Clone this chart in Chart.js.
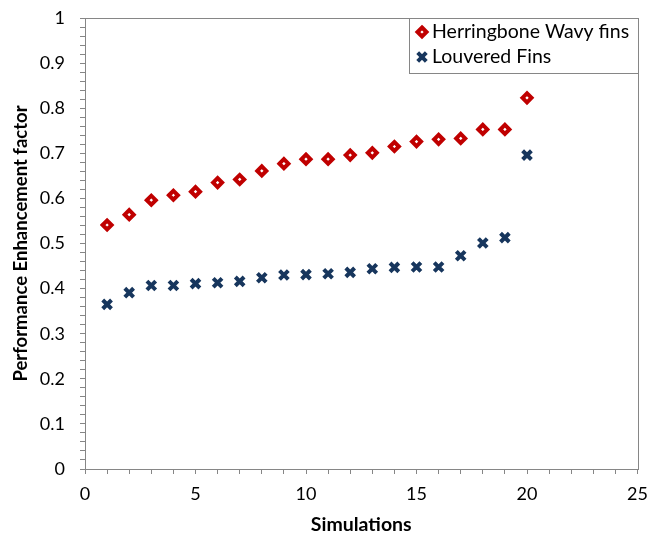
<!DOCTYPE html>
<html>
<head>
<meta charset="utf-8">
<script src="https://cdn.jsdelivr.net/npm/chart.js@4/dist/chart.umd.min.js"></script>
<style>
  html, body { margin: 0; padding: 0; background: #fff; }
  canvas { display: block; }
</style>
</head>
<body>
<canvas id="chart" width="651" height="539"></canvas>
<script>
// Simulation index and performance enhancement factor per fin type
const simulations = [1, 2, 3, 4, 5, 6, 7, 8, 9, 10, 11, 12, 13, 14, 15, 16, 17, 18, 19, 20];
const herringboneWavy = [0.541, 0.564, 0.596, 0.607, 0.615, 0.635, 0.642, 0.661, 0.677, 0.687,
                         0.687, 0.696, 0.701, 0.715, 0.726, 0.731, 0.733, 0.753, 0.753, 0.823];
const louvered = [0.365, 0.391, 0.407, 0.407, 0.411, 0.413, 0.416, 0.424, 0.430, 0.431,
                  0.433, 0.436, 0.444, 0.447, 0.448, 0.448, 0.473, 0.501, 0.513, 0.696];
const seriesNames = ['Herringbone Wavy fins', 'Louvered Fins'];
const xTitle = 'Simulations';
const yTitle = 'Performance Enhancement factor';

const FONT = 'Lato, "Open Sans", sans-serif';
const AXIS_GREY = '#868686';
const RED = '#C00000';
const NAVY = '#17365D';

const toPoints = vals => simulations.map((s, i) => ({ x: s, y: vals[i] }));

function drawMarker(ctx, style, x, y) {
  ctx.save();
  if (style === 'diamond') {
    const r = 4.5;
    ctx.beginPath();
    ctx.moveTo(x, y - r); ctx.lineTo(x + r, y); ctx.lineTo(x, y + r); ctx.lineTo(x - r, y);
    ctx.closePath();
    ctx.fillStyle = '#fff'; ctx.fill();
    ctx.lineWidth = 4; ctx.strokeStyle = RED; ctx.stroke();
  } else {
    const d = 4.3;
    ctx.beginPath();
    ctx.moveTo(x - d, y - d); ctx.lineTo(x + d, y + d);
    ctx.moveTo(x + d, y - d); ctx.lineTo(x - d, y + d);
    ctx.lineWidth = 4; ctx.strokeStyle = NAVY; ctx.stroke();
  }
  ctx.restore();
}

// Plot frame and the boxed legend in the top-right corner
const framePlugin = {
  id: 'frame',
  afterDatasetsDraw(chart) {
    const { ctx, chartArea: a } = chart;
    ctx.save();
    ctx.strokeStyle = AXIS_GREY;
    ctx.lineWidth = 1;
    ctx.strokeRect(Math.round(a.left) + 0.5, Math.round(a.top) + 0.5,
                   Math.round(a.right - a.left), Math.round(a.bottom - a.top));

    const top = Math.round(a.top);
    const lx = 409.5, ly = top + 0.5, lw = Math.round(a.right) - 409, lh = 55;
    ctx.fillStyle = '#fff';
    ctx.fillRect(lx, ly, lw, lh);
    ctx.strokeRect(lx, ly, lw, lh);
    ctx.font = '19.5px ' + FONT;
    ctx.fillStyle = '#000';
    ctx.textBaseline = 'middle';
    ctx.textAlign = 'left';
    drawMarker(ctx, 'diamond', 422, top + 14);
    ctx.fillText(seriesNames[0], 432, top + 14);
    drawMarker(ctx, 'cross', 422, top + 39);
    ctx.fillText(seriesNames[1], 432, top + 39);
    ctx.restore();
  }
};

const isMajorY = v => Math.abs(v * 10 - Math.round(v * 10)) < 1e-6;

new Chart(document.getElementById('chart'), {
  type: 'scatter',
  data: {
    datasets: [
      {
        label: seriesNames[0],
        data: toPoints(herringboneWavy),
        pointStyle: 'rectRot',
        pointRadius: 4.5,
        pointHoverRadius: 4.5,
        pointBorderWidth: 4,
        borderColor: RED,
        backgroundColor: '#fff'
      },
      {
        label: seriesNames[1],
        data: toPoints(louvered),
        pointStyle: 'crossRot',
        pointRadius: 6.2,
        pointHoverRadius: 6.2,
        pointBorderWidth: 4,
        borderColor: NAVY,
        backgroundColor: NAVY
      }
    ]
  },
  options: {
    responsive: false,
    animation: false,
    layout: { padding: { top: 18, right: 13.5, left: 0, bottom: 0 } },
    plugins: { legend: { display: false }, tooltip: { enabled: false } },
    scales: {
      x: {
        type: 'linear',
        min: 0, max: 25,
        afterBuildTicks(scale) {
          const t = [];
          for (let v = 0; v <= 25; v++) t.push({ value: v });
          scale.ticks = t;
        },
        afterFit(scale) {
          scale.height = 70;
          scale.paddingLeft = 0;
          scale.paddingRight = 0;
        },
        grid: { drawOnChartArea: false, color: AXIS_GREY, tickLength: 5, tickColor: AXIS_GREY },
        border: { color: AXIS_GREY },
        ticks: {
          autoSkip: false,
          maxRotation: 0,
          padding: 9,
          color: '#000',
          font: { family: FONT, size: 18 },
          callback: v => (v % 5 === 0 ? String(v) : '')
        },
        title: {
          display: true,
          text: xTitle,
          color: '#000',
          font: { family: FONT, size: 19.5, weight: 'bold' },
          padding: { top: 0, bottom: 3 }
        }
      },
      y: {
        type: 'linear',
        min: 0, max: 1,
        afterBuildTicks(scale) {
          const t = [];
          for (let i = 0; i <= 50; i++) t.push({ value: i / 50 });
          scale.ticks = t;
        },
        afterFit(scale) {
          scale.width = 85;
          scale.paddingTop = 0;
          scale.paddingBottom = 0;
        },
        grid: { drawOnChartArea: false, color: AXIS_GREY, tickLength: 5, tickColor: AXIS_GREY },
        border: { color: AXIS_GREY },
        ticks: {
          autoSkip: false,
          padding: 15,
          color: '#000',
          font: { family: FONT, size: 18 },
          callback: v => (isMajorY(v) ? String(Math.round(v * 10) / 10) : '')
        },
        title: {
          display: true,
          text: yTitle,
          color: '#000',
          font: { family: FONT, size: 18.5, weight: 'bold' },
          padding: { top: 10, bottom: 0 }
        }
      }
    }
  },
  plugins: [framePlugin]
});
</script>
</body>
</html>
